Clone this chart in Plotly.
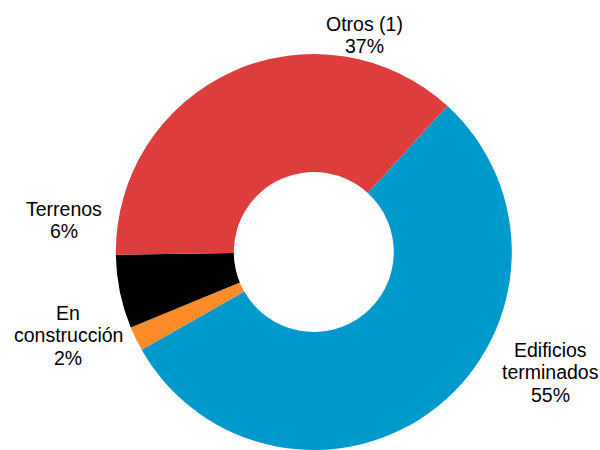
import plotly.graph_objects as go

# Composition by category (percent of total)
categories = ["Edificios terminados", "En construcción", "Terrenos", "Otros (1)"]
values = [55, 2, 6, 37]
colors = ["#0099CC", "#FF8C28", "#000000", "#DD3D3D"]

# Label text split into display lines
label_lines = [["Edificios", "terminados"], ["En", "construcción"], ["Terrenos"], ["Otros (1)"]]

# Label anchor (pixel x of centre, pixel y of first line centre)
label_pos = [(550, 350), (68, 313), (64, 209), (365, 24)]
LINE_STEP = 22.4
W, H = 600, 450

fig = go.Figure(
    go.Pie(
        labels=categories,
        values=values,
        marker=dict(colors=colors, line=dict(width=0)),
        hole=0.404,
        sort=False,
        direction="clockwise",
        rotation=42.4,
        textinfo="none",
        hoverinfo="label+percent",
        domain=dict(x=[0.188, 0.858], y=[0.0, 0.88]),
        showlegend=False,
    )
)

annotations = []
total = sum(values)
for lines, val, (px, py) in zip(label_lines, values, label_pos):
    pct = round(val / total * 100)
    all_lines = lines + [f"{pct}%"]
    for i, line in enumerate(all_lines):
        y_px = py + i * LINE_STEP
        annotations.append(
            dict(
                text=line,
                x=px / W,
                y=1 - y_px / H,
                xref="paper",
                yref="paper",
                xanchor="center",
                yanchor="middle",
                showarrow=False,
                font=dict(family="Arial, Liberation Sans, sans-serif", size=19.5, color="#000000"),
            )
        )

fig.update_layout(
    width=W,
    height=H,
    margin=dict(l=0, r=0, t=0, b=0),
    paper_bgcolor="#FFFFFF",
    plot_bgcolor="#FFFFFF",
    annotations=annotations,
)

fig.write_html("out.html")
